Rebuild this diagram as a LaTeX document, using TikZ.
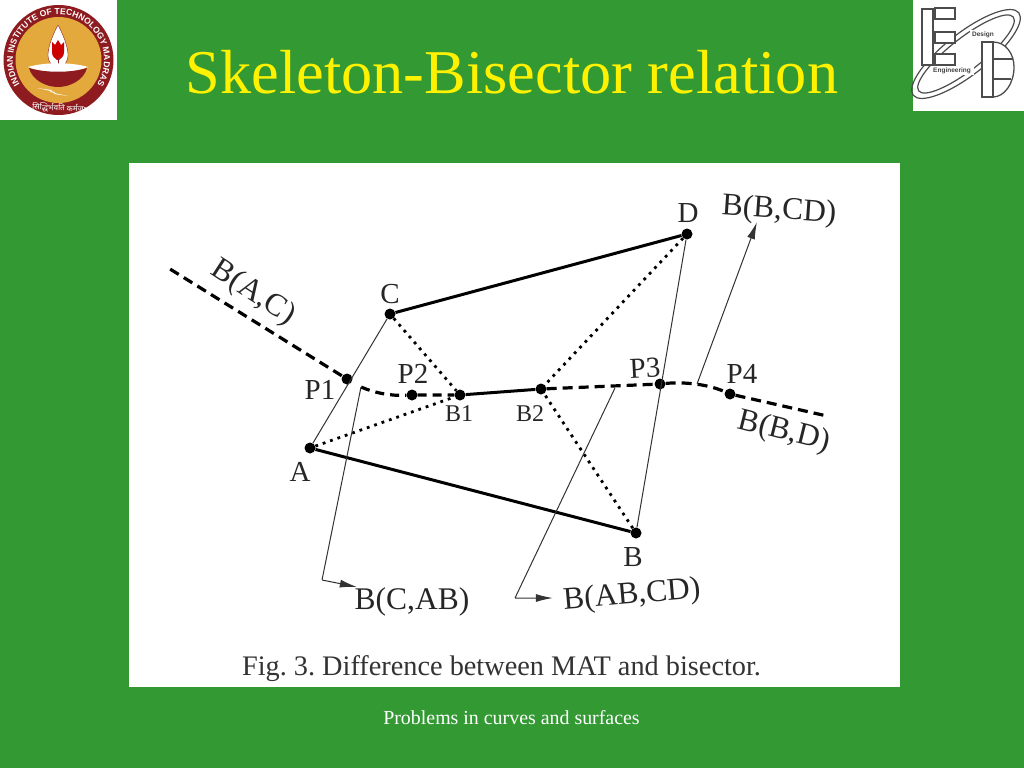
\documentclass[tikz,border=0pt]{standalone}
\usepackage{fontspec}
\setmainfont{Liberation Serif}
\newfontfamily\logofont{Liberation Sans}[Scale=1]
\newfontfamily\devafont[Script=Devanagari]{Noto Sans}
\usetikzlibrary{decorations.text,arrows.meta}
\definecolor{slidegreen}{HTML}{339933}
\definecolor{logored}{HTML}{8E1B1F}
\definecolor{logogold}{HTML}{E3A93C}
\tikzset{
    figlabel/.style={font=\fontsize{29}{29}\selectfont,text=black!85,inner sep=0pt},
    curvelabel/.style={font=\fontsize{31.5}{32}\selectfont,text=black!85,inner sep=0pt},
    pointdot/.style={fill=black,circle,draw=none,inner sep=0pt,minimum size=11pt},
    hinge/.style={inner sep=0pt,minimum size=0pt},
    edbox/.style={draw=black!70,line width=1.3pt,fill=white},
}
\frenchspacing
\begin{document}
\begin{tikzpicture}[x=1pt,y=-1pt]
    \useasboundingbox (0,0) rectangle (1024,768);
    \fill[slidegreen] (0,0) rectangle (1024,768);
    \fill[white] (129,163) rectangle (900,687);

    % title and footer
    \node[text=yellow,font=\fontsize{62.3}{63}\selectfont,inner sep=0pt] (title) at (512,72) {Skeleton-Bisector relation};
    \node[text=white,font=\fontsize{19.9}{20}\selectfont,inner sep=0pt] (footer) at (511.5,718) {Problems in curves and surfaces};

    % left logo
    \fill[white] (0,0) rectangle (117,120);
    \fill[logored] (58.5,60) circle (55);
    \fill[logogold] (58.5,60) circle (43);
    \path[postaction={decorate,decoration={text along path,text align=center,
        text={|\logofont\fontsize{8.6}{9}\selectfont\bfseries\color{white}|INDIAN INSTITUTE OF TECHNOLOGY MADRAS}}}]
        (58.5,60) ++(135:45.5) arc[start angle=135,end angle=405,radius=45.5];
    \node[text=white,font=\devafont\fontsize{8}{8}\selectfont,inner sep=0pt,rotate=-3] (motto) at (59,108) {सिद्धिर्भवति कर्मजा};
    \fill[white,draw=logored,line width=.4pt] (58,25) .. controls (50,40) and (48,50) .. (48,55) .. controls (48,63) and (54,68) .. (58,71) .. controls (62,68) and (68,63) .. (68,55) .. controls (68,50) and (66,40) .. (58,25) -- cycle;
    \fill[red!80!black] (52,42) -- (55,45) -- (58,40) -- (61,45) -- (64,42) -- (64,52) .. controls (64,57) and (61,58) .. (59,60) -- (57,60) .. controls (55,58) and (52,57) .. (52,52) -- cycle;
    \draw[logored,line width=1pt] (58,58) -- (58,70);
    \fill[white] (28,67) .. controls (45,62) and (71,62) .. (88,67) .. controls (71,74) and (45,74) .. (28,67) -- cycle;
    \fill[logored] (29,68) .. controls (45,73) and (71,73) .. (87,68) .. controls (84,80) and (70,87) .. (58,87) .. controls (46,87) and (32,80) .. (29,68) -- cycle;
    \fill[white!90!logogold] (37,88) -- (52,90) -- (50,92) -- (68,96) -- (54,94) -- (55,92) -- cycle;

    % right logo
    \fill[white] (913,0) rectangle (1024,111);
    \draw[black!70,line width=1.2pt,rotate around={38:(966,54)}] (966,54) ellipse (67 and 21);
    \draw[black!70,line width=1.2pt,rotate around={38:(966,54)}] (966,54) ellipse (60 and 16);
    \draw[edbox] (922,9) rectangle (933,65);
    \draw[edbox] (935,8) rectangle (955,19);
    \draw[edbox] (935,32) rectangle (955,43);
    \draw[edbox] (935,54) rectangle (955,65);
    \fill[white] (932,67) rectangle (974,75);
    \fill[white] (970,30) rectangle (998,39);
    \draw[edbox] (993,42) .. controls (1006,42) and (1014,54) .. (1014,67) .. controls (1014,84) and (1004,97) .. (993,97) -- cycle;
    \draw[black!70,line width=1.2pt] (993,59) -- (1013,59) (993,79) -- (1011,79);
    \draw[edbox] (982,42) rectangle (993,97);
    \node[font=\logofont\bfseries\fontsize{6.5}{6.5}\selectfont,text=black!75,inner sep=0pt] (design) at (983,35) {Design};
    \node[font=\logofont\bfseries\fontsize{6.5}{6.5}\selectfont,text=black!75,inner sep=0pt] (engineering) at (952,71) {Engineering};

    % figure points
    \begin{scope}[every node/.style={pointdot}]
        \node (A) at (310,448) {};
        \node (B) at (636,533) {};
        \node (C) at (390,314) {};
        \node (D) at (687,234) {};
        \node (P1) at (347,379) {};
        \node (P2) at (412,395) {};
        \node (P3) at (660,384) {};
        \node (P4) at (730,394) {};
        \node (B1) at (460,395) {};
        \node (B2) at (541,389) {};
    \end{scope}
    \begin{scope}[every node/.style={hinge}]
        \node (bisstart) at (170,269) {};
        \node (bisgap) at (361,387) {};
        \node (bisend) at (827,416) {};
        \node (cabstart) at (361,387) {};
        \node (cabknee) at (322,580) {};
        \node (cabtip) at (357,587) {};
        \node (abcdstart) at (615,388) {};
        \node (abcdknee) at (515,598) {};
        \node (abcdtip) at (553,598) {};
        \node (bcdstart) at (697,384) {};
        \node (bcdtip) at (757,222) {};
    \end{scope}

    % sides of the quadrilateral
    \begin{scope}[every edge/.style={draw,line width=3pt,black}]
        \path [-] (A) edge (B);
        \path [-] (C) edge (D);
        \path [-] (B1) edge (B2);
    \end{scope}
    \begin{scope}[every edge/.style={draw,line width=1pt,black!80}]
        \path [-] (A) edge (C);
        \path [-] (B) edge (D);
    \end{scope}
    \begin{scope}[every edge/.style={draw,line width=2.8pt,black,dash pattern=on 2.8pt off 5pt}]
        \path [-] (C) edge (B1);
        \path [-] (A) edge (B1);
        \path [-] (D) edge (B2);
        \path [-] (B) edge (B2);
    \end{scope}

    % bisector pieces
    \draw[line width=3.2pt,dash pattern=on 10pt off 6pt] (bisstart) -- (P1);
    \draw[line width=3.2pt,dash pattern=on 9pt off 6pt] (bisgap) .. controls (375,393) and (390,396) .. (P2) -- (B1);
    \draw[line width=3.2pt,dash pattern=on 10pt off 6pt] (B2) -- (P3) .. controls (680,382) and (705,383) .. (P4) -- (bisend);

    % leader arrows
    \draw[line width=1pt,black!80,-{Latex[length=17pt,width=8pt]}] (cabstart) -- (cabknee) -- (cabtip);
    \draw[line width=1pt,black!80,-{Latex[length=17pt,width=8pt]}] (abcdstart) -- (abcdknee) -- (abcdtip);
    \draw[line width=1pt,black!80,-{Latex[length=17pt,width=8pt]}] (bcdstart) -- (bcdtip);

    % labels
    \node[figlabel] (labA) at (300,472) {A};
    \node[figlabel] (labB) at (633,557) {B};
    \node[figlabel] (labC) at (390,294) {C};
    \node[figlabel] (labD) at (688,213) {D};
    \node[figlabel] (labP1) at (320,390) {P1};
    \node[figlabel] (labP2) at (413,374) {P2};
    \node[figlabel,rotate=3] (labP3) at (645,368) {P3};
    \node[figlabel] (labP4) at (742,374) {P4};
    \node[figlabel,font=\fontsize{24}{24}\selectfont] (labB1) at (459,414) {B1};
    \node[figlabel,font=\fontsize{24}{24}\selectfont] (labB2) at (530,414) {B2};
    \node[curvelabel,rotate=-33] (labAC) at (253,293) {B(A,C)};
    \node[curvelabel,rotate=-4] (labBCD) at (779,211) {B(B,CD)};
    \node[curvelabel,rotate=-14] (labBD) at (784,432) {B(B,D)};
    \node[curvelabel] (labCAB) at (412,602) {B(C,AB)};
    \node[curvelabel,rotate=5] (labABCD) at (632,596) {B(AB,CD)};
    \node[font=\fontsize{28.3}{29}\selectfont,text=black!80,inner sep=0pt] (caption) at (501.5,669) {Fig. 3. Difference between MAT and bisector.};
\end{tikzpicture}
\end{document}
